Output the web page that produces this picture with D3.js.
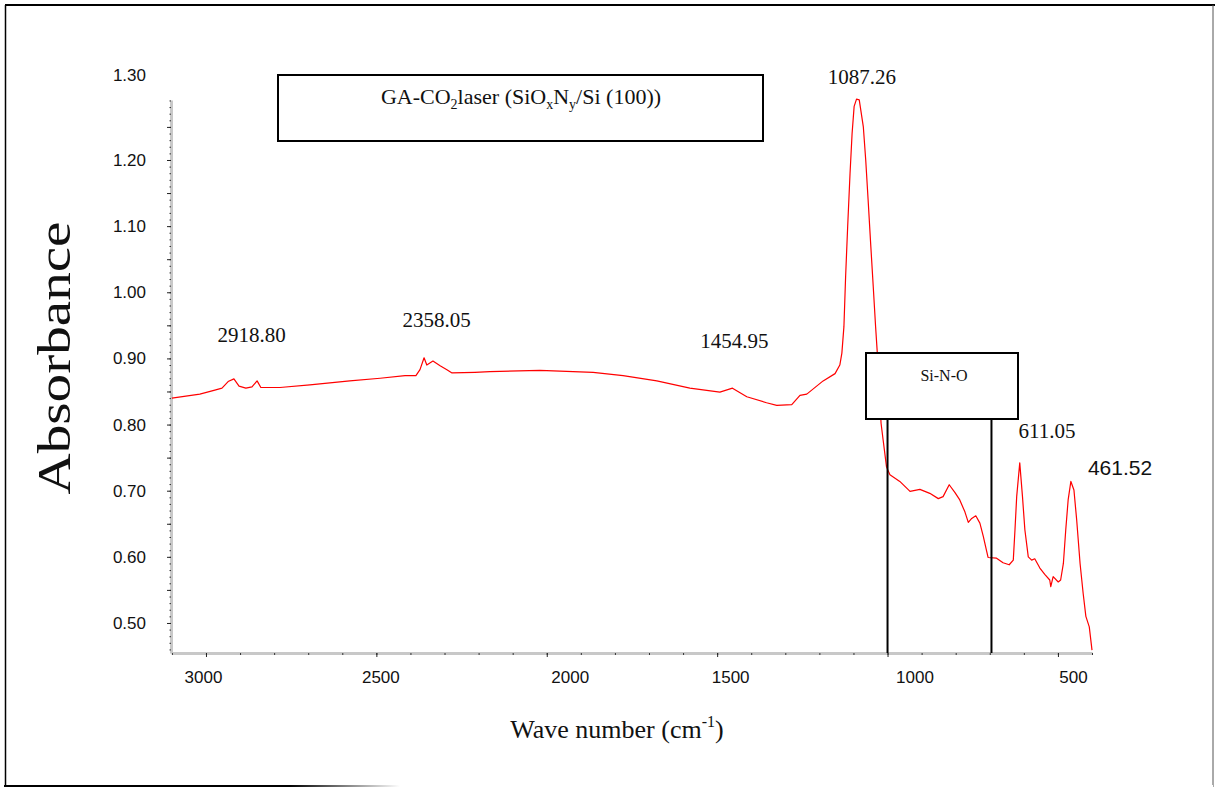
<!DOCTYPE html>
<html>
<head>
<meta charset="utf-8">
<script src="https://cdn.jsdelivr.net/npm/d3@7"></script>
<style>
  html, body { margin: 0; padding: 0; background: #fff; }
  svg { display: block; }
</style>
</head>
<body>
<svg id="chart" width="1215" height="789"></svg>
<script>
// FTIR absorbance spectrum, GA-CO2 laser SiOxNy / Si(100)

// [wave number (cm-1), absorbance], high -> low wave number
var spectrum = [
  [3100, 0.840], [3018, 0.846], [2974, 0.852], [2953, 0.855], [2935, 0.865],
  [2918, 0.869], [2903, 0.858], [2883, 0.855], [2865, 0.857], [2850, 0.866],
  [2839, 0.856], [2783, 0.856], [2695, 0.860], [2578, 0.866], [2489, 0.870],
  [2416, 0.874], [2384, 0.874], [2372, 0.883], [2360, 0.901], [2352, 0.890],
  [2334, 0.896], [2313, 0.889], [2293, 0.883], [2278, 0.878], [2211, 0.879],
  [2167, 0.880], [2020, 0.882], [1864, 0.879], [1776, 0.874], [1677, 0.866],
  [1580, 0.855], [1492, 0.849], [1455, 0.855], [1413, 0.842], [1355, 0.833],
  [1325, 0.829], [1281, 0.830], [1257, 0.844], [1237, 0.846], [1189, 0.866],
  [1154, 0.877], [1140, 0.890], [1134, 0.908], [1128, 0.948], [1123, 1.024],
  [1117, 1.099], [1110, 1.180], [1104, 1.240], [1098, 1.281], [1091, 1.292],
  [1083, 1.291], [1071, 1.250], [1064, 1.200], [1057, 1.140], [1049, 1.069],
  [1042, 1.009], [1035, 0.948], [1030, 0.908], [1019, 0.802], [1013, 0.777],
  [1003, 0.736], [993, 0.724], [964, 0.714], [934, 0.699], [905, 0.702],
  [876, 0.696], [851, 0.688], [837, 0.691], [819, 0.709], [802, 0.697],
  [788, 0.686], [773, 0.668], [763, 0.652], [753, 0.658], [741, 0.662],
  [729, 0.651], [719, 0.631], [705, 0.599], [680, 0.598], [661, 0.591],
  [643, 0.588], [631, 0.595], [626, 0.641], [621, 0.691], [612, 0.742],
  [604, 0.691], [597, 0.641], [587, 0.600], [577, 0.595], [568, 0.597],
  [553, 0.583], [538, 0.573], [524, 0.565], [521, 0.555], [514, 0.570],
  [499, 0.562], [492, 0.565], [484, 0.590], [477, 0.641], [470, 0.686],
  [462, 0.714], [453, 0.701], [445, 0.656], [435, 0.590], [426, 0.545],
  [418, 0.510], [408, 0.494], [400, 0.459]
];

var xTicks = [3000, 2500, 2000, 1500, 1000, 500];
var yTicks = [0.50, 0.60, 0.70, 0.80, 0.90, 1.00, 1.10, 1.20, 1.30];

// peak annotations: [wave number, label]
var peaks = [
  [2918.80, "2918.80"], [2358.05, "2358.05"], [1454.95, "1454.95"],
  [1087.26, "1087.26"], [611.05, "611.05"], [461.52, "461.52"]
];
// Si-N-O band edges (cm-1)
var siNOBand = [1000, 695];

var xDomain = [3100, 400],
    yDomain = [0.4546, 1.2907];

///////////////////////////////////////////////////////////////////////////////
// layout

var svg = d3.select("#chart");
var serif = "'Liberation Serif', 'Times New Roman', serif",
    sans = "'Liberation Sans', Arial, sans-serif";

var x = d3.scaleLinear().domain(xDomain).range([171.9, 1092]);
var y = d3.scaleLinear().domain(yDomain).range([653, 100]);

// outer frame
var grad = svg.append("defs").append("linearGradient")
  .attr("id", "fade").attr("gradientUnits", "userSpaceOnUse")
  .attr("x1", 290).attr("x2", 400).attr("y1", 0).attr("y2", 0);
grad.append("stop").attr("offset", 0).attr("stop-color", "#000");
grad.append("stop").attr("offset", 1).attr("stop-color", "#fff");

svg.append("line").attr("x1", 5).attr("x2", 1215).attr("y1", 5).attr("y2", 5)
  .attr("stroke", "#000").attr("stroke-width", 2);
svg.append("line").attr("x1", 5.5).attr("x2", 5.5).attr("y1", 5).attr("y2", 787)
  .attr("stroke", "#000").attr("stroke-width", 1.5);
svg.append("line").attr("x1", 1213).attr("x2", 1213).attr("y1", 5).attr("y2", 787)
  .attr("stroke", "#555").attr("stroke-width", 1);
svg.append("line").attr("x1", 4).attr("x2", 1213).attr("y1", 786).attr("y2", 786)
  .attr("stroke", "url(#fade)").attr("stroke-width", 2);

// axes: grey bar with small dotted ticks
function styleAxis(g, tickColor) {
  g.select(".domain").attr("stroke", "#c8c8c8").attr("stroke-width", 3);
  g.selectAll(".tick line").attr("stroke", tickColor).attr("stroke-width", 1);
}

var yMinor = d3.range(46, 130).map(function (d) { return d / 100; });
var yMid = d3.range(10, 26).map(function (d) { return d / 20; });

var gy = svg.append("g").attr("transform", "translate(171,0)");
gy.append("g")
  .call(d3.axisLeft(y).tickValues(yMinor).tickSize(1.5).tickSizeOuter(0).tickFormat(""))
  .call(styleAxis, "#333");
gy.append("g")
  .call(d3.axisLeft(y).tickValues(yMid).tickSize(4).tickSizeOuter(0).tickFormat(""))
  .call(function (g) { g.select(".domain").remove(); })
  .call(styleAxis, "#222");
gy.append("g")
  .call(d3.axisLeft(y).tickValues(yTicks).tickSize(0).tickPadding(25)
    .tickFormat(d3.format(".2f")))
  .call(function (g) {
    g.select(".domain").remove();
    g.selectAll("text").attr("font-family", sans).attr("font-size", 17)
      .attr("fill", "#111");
    // the 1.30 label sits above the end of the axis
    g.selectAll(".tick").filter(function (d) { return d > 1.25; })
      .select("text").attr("y", -19);
  });

var xMinor = d3.range(400, 3101, 100);
var gx = svg.append("g").attr("transform", "translate(0,653)");
gx.append("g")
  .call(d3.axisBottom(x).tickValues(xMinor).tickSize(2).tickSizeOuter(0).tickFormat(""))
  .call(styleAxis, "#333");
gx.append("g")
  .call(d3.axisBottom(x).tickValues(xTicks).tickSize(4).tickSizeOuter(0).tickFormat(""))
  .call(function (g) { g.select(".domain").remove(); })
  .call(styleAxis, "#222");

// tick labels were pasted slightly off their ticks in the original
var xLabelShift = {3000: -3, 2500: 4, 2000: 23, 1500: 13, 1000: 27, 500: 15};
gx.append("g")
  .call(d3.axisBottom(x).tickValues(xTicks).tickSize(0).tickFormat(d3.format("d")))
  .call(function (g) {
    g.select(".domain").remove();
    g.selectAll("text").attr("font-family", sans).attr("font-size", 17)
      .attr("fill", "#111").attr("y", 30).attr("dy", 0)
      .attr("dx", function (d) { return xLabelShift[d] || 0; });
  });

// spectrum
var line = d3.line()
  .x(function (d) { return x(d[0]); })
  .y(function (d) { return y(d[1]); });

svg.append("path").datum(spectrum)
  .attr("d", line)
  .attr("fill", "none")
  .attr("stroke", "#ff0000")
  .attr("stroke-width", 1.2)
  .attr("stroke-linejoin", "round");

// Si-N-O band markers
svg.selectAll(".band").data(siNOBand).enter().append("line")
  .attr("x1", function (d) { return x(d); })
  .attr("x2", function (d) { return x(d); })
  .attr("y1", 419).attr("y2", 653)
  .attr("stroke", "#000").attr("stroke-width", 2);

svg.append("rect").attr("x", 866).attr("y", 353).attr("width", 152).attr("height", 66)
  .attr("fill", "#fff").attr("stroke", "#000").attr("stroke-width", 2);
svg.append("text").attr("x", 944).attr("y", 381).attr("text-anchor", "middle")
  .attr("font-family", serif).attr("font-size", 16).attr("fill", "#111")
  .text("Si-N-O");

// title box
svg.append("rect").attr("x", 278).attr("y", 75).attr("width", 485).attr("height", 66)
  .attr("fill", "#fff").attr("stroke", "#000").attr("stroke-width", 2);
var title = svg.append("text").attr("x", 521).attr("y", 104)
  .attr("text-anchor", "middle").attr("font-family", serif)
  .attr("font-size", 22).attr("fill", "#111");
[["GA-CO", 0], ["2", 1], ["laser (SiO", 0], ["x", 1], ["N", 0], ["y", 1], ["/Si (100))", 0]]
  .forEach(function (p, i, all) {
    var prevSub = i > 0 && all[i - 1][1];
    var dy = p[1] && !prevSub ? 5 : (!p[1] && prevSub ? -5 : 0);
    title.append("tspan").attr("dy", dy)
      .attr("font-size", p[1] ? 14 : 22).text(p[0]);
  });

// peak labels
var peakOffsets = [[18, 342], [12, 327], [2, 348], [4, 84], [27, 438], [49, 475]];
svg.selectAll(".peak").data(peaks).enter().append("text")
  .attr("x", function (d, i) { return x(d[0]) + peakOffsets[i][0]; })
  .attr("y", function (d, i) { return peakOffsets[i][1]; })
  .attr("text-anchor", "middle")
  .attr("font-family", function (d) { return d[1] === "461.52" ? sans : serif; })
  .attr("font-size", 21)
  .attr("fill", "#111")
  .text(function (d) { return d[1]; });

// axis titles
svg.append("text")
  .attr("transform", "translate(70,358) rotate(-90)")
  .attr("text-anchor", "middle")
  .attr("font-family", serif).attr("font-size", 46).attr("fill", "#111")
  .attr("textLength", 273).attr("lengthAdjust", "spacingAndGlyphs")
  .text("Absorbance");

var xt = svg.append("text").attr("x", 617).attr("y", 738)
  .attr("text-anchor", "middle").attr("font-family", serif)
  .attr("font-size", 26).attr("fill", "#111");
xt.append("tspan").text("Wave number (cm");
xt.append("tspan").attr("dy", -11).attr("font-size", 16).text("-1");
xt.append("tspan").attr("dy", 11).text(")");
</script>
</body>
</html>
